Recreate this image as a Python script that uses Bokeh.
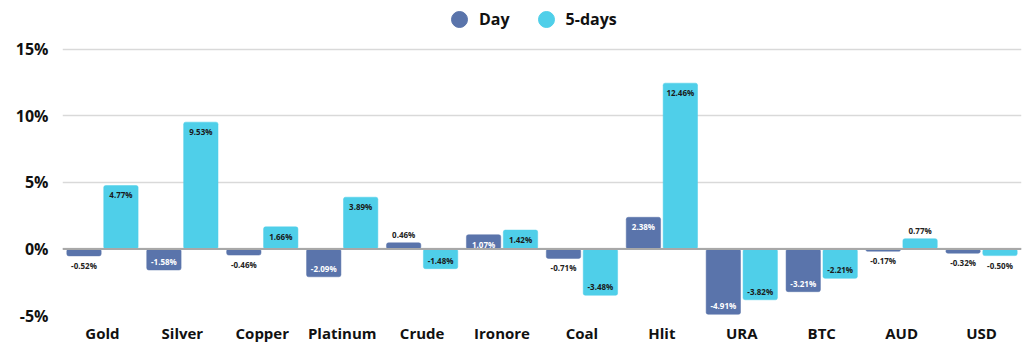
from bokeh.plotting import figure
from bokeh.models import (ColumnDataSource, Range1d, FactorRange, FixedTicker,
                          PrintfTickFormatter, Legend, LegendItem, Span)
from bokeh.core.properties import value
from bokeh.transform import dodge
from bokeh.embed import file_html
from bokeh.resources import INLINE

categories = ["Gold", "Silver", "Copper", "Platinum", "Crude", "Ironore",
              "Coal", "Hlit", "URA", "BTC", "AUD", "USD"]
day = [-0.52, -1.58, -0.46, -2.09, 0.46, 1.07, -0.71, 2.38, -4.91, -3.21, -0.17, -0.32]
five_days = [4.77, 9.53, 1.66, 3.89, -1.48, 1.42, -3.48, 12.46, -3.82, -2.21, 0.77, -0.50]
y_ticks = [-5, 0, 5, 10, 15]

DAY_COLOR = "#5a74ab"
FIVE_COLOR = "#4fcfe9"
FONT = "Open Sans"


def label_cols(vals, inside_color):
    texts, base, off, col = [], [], [], []
    for v in vals:
        inside = abs(v) >= 1.0
        texts.append(f"{v:.2f}%")
        top = (v > 0 and inside) or (v < 0 and not inside)
        base.append("top" if top else "bottom")
        off.append(4 if top else -3)
        col.append(inside_color if inside else "#222222")
    return texts, base, off, col


dt, db, do, dc = label_cols(day, "#ffffff")
ft, fb, fo, fc = label_cols(five_days, "#1a1a1a")

src = ColumnDataSource(dict(cat=categories, day=day, five=five_days,
                            dt=dt, db=db, do=do, dc=dc,
                            ft=ft, fb=fb, fo=fo, fc=fc))

# frame spans the full height above the axis; the top part holds the legend
p = figure(width=1024, height=345, x_range=FactorRange(*categories),
           y_range=Range1d(-5, 18.67), output_backend="svg", toolbar_location=None,
           min_border_left=62, min_border_right=3, min_border_bottom=29,
           min_border_top=0)
p.outline_line_color = None
p.background_fill_color = "white"
# a range that maps every value off the frame: used only for legend-glyph renderers
p.extra_y_ranges = {"legend_only": Range1d(1000, 1001)}

OFF = 0.231
W = 0.43
r_day = p.vbar(x=dodge("cat", -OFF, range=p.x_range), top="day", bottom=0, width=W,
               source=src, fill_color=DAY_COLOR, line_color=DAY_COLOR, line_width=0.5,
               border_radius=2)
r_five = p.vbar(x=dodge("cat", OFF, range=p.x_range), top="five", bottom=0, width=W,
                source=src, fill_color=FIVE_COLOR, line_color=FIVE_COLOR, line_width=0.5,
                border_radius=2)

p.add_layout(Span(location=0, dimension="width", line_color="#a8a8a8", line_width=2,
                  level="overlay"))

p.text(x=dodge("cat", -OFF, range=p.x_range), y="day", text="dt", source=src,
       text_align="center", text_baseline="db", y_offset="do", text_color="dc",
       text_font_size="8px", text_font_style="bold", text_font=value(FONT))
p.text(x=dodge("cat", OFF, range=p.x_range), y="five", text="ft", source=src,
       text_align="center", text_baseline="fb", y_offset="fo", text_color="fc",
       text_font_size="8px", text_font_style="bold", text_font=value(FONT))

l_day = p.scatter(x="cat", y="day", source=src, y_range_name="legend_only",
                  marker="circle", fill_color=DAY_COLOR, line_color=DAY_COLOR)
l_five = p.scatter(x="cat", y="five", source=src, y_range_name="legend_only",
                   marker="circle", fill_color=FIVE_COLOR, line_color=FIVE_COLOR)
legend = Legend(items=[LegendItem(label="Day", renderers=[l_day], index=0),
                       LegendItem(label="5-days", renderers=[l_five], index=0)],
                orientation="horizontal", location=(377, 276),
                glyph_width=40, glyph_height=40, label_standoff=-2, spacing=16,
                padding=0, margin=0, border_line_color=None, background_fill_alpha=0,
                label_text_font=FONT, label_text_font_style="bold",
                label_text_font_size="16px", label_text_color="#111111",
                label_height=40)
p.add_layout(legend, "center")

p.xgrid.grid_line_color = None
p.ygrid.ticker = FixedTicker(ticks=y_ticks)
p.ygrid.grid_line_color = "#d9d9d9"
p.ygrid.grid_line_width = 1.5

p.yaxis.ticker = FixedTicker(ticks=y_ticks)
p.yaxis.formatter = PrintfTickFormatter(format="%d%%")
p.yaxis.axis_line_color = None
p.yaxis.major_tick_line_color = None
p.yaxis.minor_tick_line_color = None
p.yaxis.major_label_standoff = 8
p.yaxis.major_label_text_font = FONT
p.yaxis.major_label_text_font_style = "bold"
p.yaxis.major_label_text_font_size = "16px"
p.yaxis.major_label_text_color = "#111111"

p.xaxis.axis_line_color = None
p.xaxis.major_tick_line_color = None
p.xaxis.major_label_standoff = 1
p.xaxis.major_label_text_font = FONT
p.xaxis.major_label_text_font_style = "bold"
p.xaxis.major_label_text_font_size = "15px"
p.xaxis.major_label_text_color = "#111111"

open("out.html", "w").write(file_html(p, INLINE))
